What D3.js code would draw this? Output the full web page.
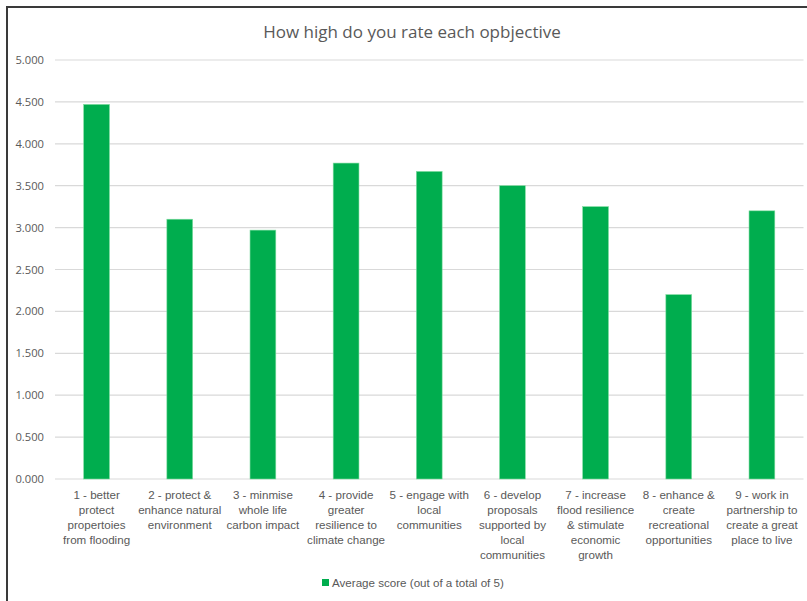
<!DOCTYPE html>
<html>
<head>
<meta charset="utf-8">
<script src="https://cdn.jsdelivr.net/npm/d3@7"></script>
<style>
  body { margin: 0; background: #fff; }
  svg { display: block; }
</style>
</head>
<body>
<svg id="chart" width="807" height="601"></svg>
<script>
// chart data
const categories = ["1", "2", "3", "4", "5", "6", "7", "8", "9"];
const labelLines = [
    ["1 - better", "protect", "propertoies", "from flooding"],
    ["2 - protect &", "enhance natural", "environment"],
    ["3 - minmise", "whole life", "carbon impact"],
    ["4 - provide", "greater", "resilience to", "climate change"],
    ["5 - engage with", "local", "communities"],
    ["6 - develop", "proposals", "supported by", "local", "communities"],
    ["7 - increase", "flood resilience", "& stimulate", "economic", "growth"],
    ["8 - enhance &", "create", "recreational", "opportunities"],
    ["9 - work in", "partnership to", "create a great", "place to live"]
];
const scores = [4.47, 3.10, 2.97, 3.77, 3.67, 3.50, 3.25, 2.20, 3.20];
const yTicks = [0, 0.5, 1, 1.5, 2, 2.5, 3, 3.5, 4, 4.5, 5];
const seriesName = "Average score (out of a total of 5)";
const chartTitle = "How high do you rate each opbjective";

const svg = d3.select("#chart");
const textColor = "#595959";
const green = "#00ad4e";

// outer frame (chart area runs past the right/bottom edge)
svg.append("rect")
    .attr("x", 7).attr("y", 7)
    .attr("width", 830).attr("height", 640)
    .attr("fill", "none")
    .attr("stroke", "#3a3a3a")
    .attr("stroke-width", 2);

const plot = {left: 55, right: 803.5, top: 60, bottom: 479};

const x = d3.scaleBand()
    .domain(categories)
    .range([plot.left, plot.right])
    .paddingInner(0.69)
    .paddingOuter(0.345);

const y = d3.scaleLinear()
    .domain([0, 5])
    .range([plot.bottom, plot.top]);

// gridlines
svg.append("g")
    .selectAll("line")
    .data(yTicks)
    .enter()
    .append("line")
    .attr("x1", plot.left)
    .attr("x2", plot.right)
    .attr("y1", d => y(d))
    .attr("y2", d => y(d))
    .attr("stroke", "#d9d9d9")
    .attr("stroke-width", 1.2);

// y axis labels
const yAxis = d3.axisLeft(y)
    .tickValues(yTicks)
    .tickFormat(d3.format(".3f"))
    .tickSize(0)
    .tickPadding(11);

svg.append("g")
    .attr("transform", `translate(${plot.left},0)`)
    .call(yAxis)
    .call(g => g.select(".domain").remove())
    .selectAll("text")
    .attr("fill", textColor)
    .style("font-family", "'Open Sans', sans-serif")
    .style("font-size", "11.2px");

// bars
svg.append("g")
    .selectAll("rect")
    .data(scores)
    .enter()
    .append("rect")
    .attr("x", (d, i) => x(categories[i]))
    .attr("width", x.bandwidth())
    .attr("y", d => y(d))
    .attr("height", d => y(0) - y(d))
    .attr("fill", green)
    .attr("stroke", "#7fdca0")
    .attr("stroke-width", 0.6);

// category labels
const xl = svg.append("g");
labelLines.forEach((lines, i) => {
    const t = xl.append("text")
        .attr("x", x(categories[i]) + x.bandwidth() / 2)
        .attr("y", 499)
        .attr("text-anchor", "middle")
        .attr("fill", textColor)
        .style("font-family", "'Liberation Sans', sans-serif")
        .style("font-size", "11.6px");
    lines.forEach((s, j) => {
        t.append("tspan")
            .attr("x", x(categories[i]) + x.bandwidth() / 2)
            .attr("dy", j ? 15 : 0)
            .text(s);
    });
});

// title
svg.append("text")
    .attr("x", 412)
    .attr("y", 38)
    .attr("text-anchor", "middle")
    .attr("fill", textColor)
    .style("font-family", "'Open Sans', sans-serif")
    .style("font-size", "17px")
    .text(chartTitle);

// legend
const lg = svg.append("g").attr("transform", "translate(322,579)");
lg.append("rect")
    .attr("width", 7).attr("height", 7)
    .attr("fill", green);
lg.append("text")
    .attr("x", 10)
    .attr("y", 7.5)
    .attr("fill", textColor)
    .style("font-family", "'Liberation Sans', sans-serif")
    .style("font-size", "11.6px")
    .text(seriesName);
</script>
</body>
</html>
